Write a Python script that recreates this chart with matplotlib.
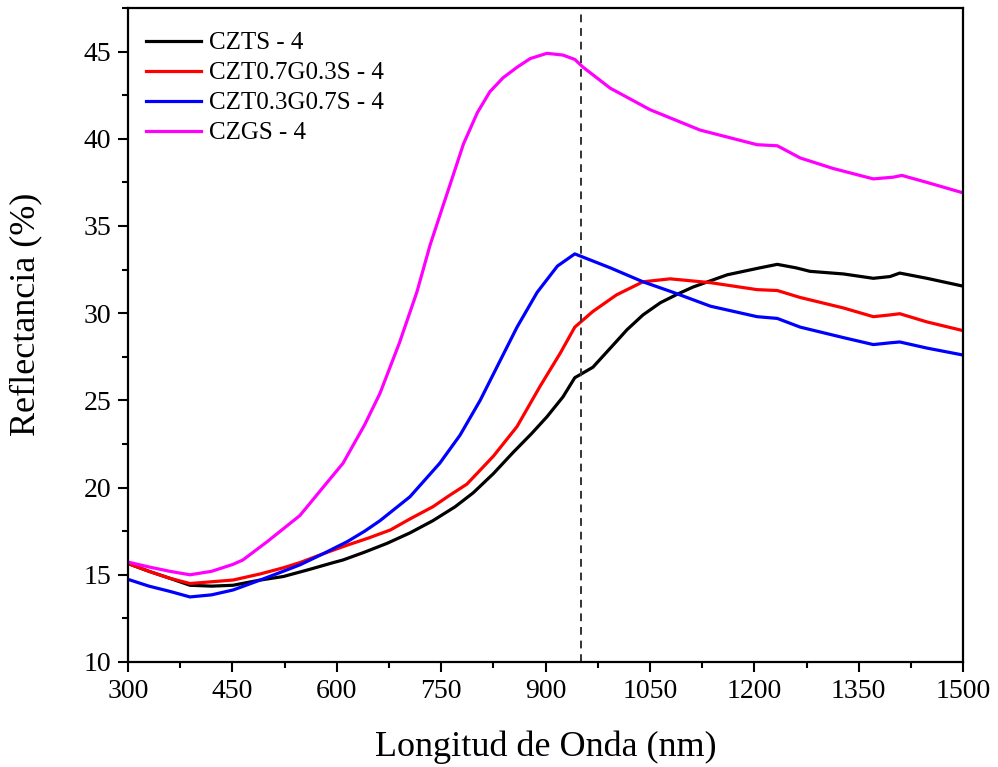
import matplotlib
matplotlib.use("Agg")
import matplotlib.pyplot as plt
from matplotlib.ticker import MultipleLocator

plt.rcParams['font.family'] = ['Liberation Serif', 'DejaVu Serif']

# ---- data ----
czts_x = [303, 330, 360, 389, 420, 451, 490, 523, 560, 595, 609, 640, 672, 705, 738, 770, 796, 825, 853, 880, 902, 925, 942,
          968, 1000, 1017, 1040, 1065, 1090, 1112, 1161, 1208, 1233, 1260, 1280, 1328, 1371, 1395, 1409, 1448, 1500]
czts_y = [15.6, 15.2, 14.8, 14.4, 14.35, 14.4, 14.7, 14.9, 15.3, 15.7, 15.85, 16.3, 16.8, 17.4, 18.1, 18.9, 19.7, 20.8, 22.0, 23.1, 24.06, 25.2, 26.3,
          26.9, 28.3, 29.05, 29.9, 30.6, 31.1, 31.5, 32.2, 32.6, 32.8, 32.6, 32.4, 32.25, 32.0, 32.1, 32.3, 32.0, 31.55]

czt73_x = [303, 330, 360, 389, 420, 451, 490, 523, 547, 580, 615, 645, 677, 705, 738, 760, 787, 825, 859, 892, 921, 942,
           968, 1002, 1040, 1079, 1137, 1204, 1233, 1266, 1328, 1371, 1395, 1409, 1448, 1500]
czt73_y = [15.6, 15.2, 14.8, 14.5, 14.6, 14.7, 15.05, 15.4, 15.7, 16.2, 16.7, 17.1, 17.57, 18.2, 18.9, 19.5, 20.2, 21.8, 23.5, 25.8, 27.7, 29.2,
           30.1, 31.05, 31.8, 31.97, 31.75, 31.35, 31.3, 30.9, 30.3, 29.8, 29.9, 29.97, 29.5, 29.0]

czt37_x = [303, 330, 360, 389, 420, 451, 490, 523, 547, 580, 615, 640, 662, 705, 748, 777, 806, 835, 859, 888, 917, 942,
           993, 1040, 1083, 1137, 1204, 1233, 1266, 1328, 1371, 1395, 1409, 1448, 1500]
czt37_y = [14.7, 14.35, 14.05, 13.73, 13.85, 14.13, 14.7, 15.2, 15.57, 16.2, 16.9, 17.5, 18.1, 19.47, 21.4, 23.0, 25.0, 27.3, 29.2, 31.2, 32.7, 33.4,
           32.6, 31.8, 31.2, 30.4, 29.8, 29.7, 29.2, 28.6, 28.2, 28.3, 28.35, 28.0, 27.6]

czgs_x = [303, 330, 360, 389, 420, 451, 465, 500, 547, 580, 609, 640, 662, 690, 715, 734, 753, 763, 782, 802, 820, 839, 859, 878, 902, 925, 942,
          954, 993, 1050, 1122, 1204, 1233, 1266, 1313, 1371, 1400, 1412, 1448, 1500]
czgs_y = [15.7, 15.45, 15.2, 15.0, 15.2, 15.6, 15.85, 16.9, 18.4, 20.0, 21.4, 23.6, 25.4, 28.3, 31.2, 33.9, 36.2, 37.4, 39.7, 41.5, 42.7, 43.5, 44.1, 44.6, 44.9, 44.8, 44.55,
          44.1, 42.9, 41.67, 40.5, 39.66, 39.6, 38.9, 38.3, 37.7, 37.8, 37.9, 37.5, 36.9]

labels = ['CZTS - 4', 'CZT0.7G0.3S - 4', 'CZT0.3G0.7S - 4', 'CZGS - 4']
colors = ['#000000', '#ff0000', '#0000ff', '#ff00ff']
vline_x = 951
x_ticks = [300, 450, 600, 750, 900, 1050, 1200, 1350, 1500]
y_ticks = [10, 15, 20, 25, 30, 35, 40, 45]

fig = plt.figure(figsize=(9.98, 7.67), dpi=100)
ax = fig.add_axes([0.1283, 0.1369, 0.8367, 0.8527])

series = [(czts_x, czts_y), (czt73_x, czt73_y), (czt37_x, czt37_y), (czgs_x, czgs_y)]
for (xs, ys), lab, c in zip(series, labels, colors):
    ax.plot(xs, ys, color=c, lw=2.3, label=lab)

ax.axvline(vline_x, color='#333333', ls=(0, (4, 3)), lw=1.4)

ax.set_xlim(300, 1500)
ax.set_ylim(10, 47.5)
ax.set_xticks(x_ticks)
ax.set_yticks(y_ticks)
ax.xaxis.set_minor_locator(MultipleLocator(75))
ax.yaxis.set_minor_locator(MultipleLocator(2.5))
ax.tick_params(which='major', direction='out', length=7, width=1.5, labelsize=20, pad=5)
ax.tick_params(which='minor', direction='out', length=4, width=1.5)
for s in ax.spines.values():
    s.set_linewidth(1.6)

ax.set_xlabel('Longitud de Onda (nm)', fontsize=26)
ax.set_ylabel('Reflectancia (%)', fontsize=26)
ax.xaxis.set_label_coords(0.5006, -0.105)
ax.yaxis.set_label_coords(-0.103, 0.532)

leg = ax.legend(loc='upper left', frameon=False, fontsize=18, handlelength=2.2,
                handletextpad=0.3, labelspacing=0.3, bbox_to_anchor=(-0.005, 0.998),
                borderaxespad=0.5)

fig.savefig('out.png', dpi=100)
